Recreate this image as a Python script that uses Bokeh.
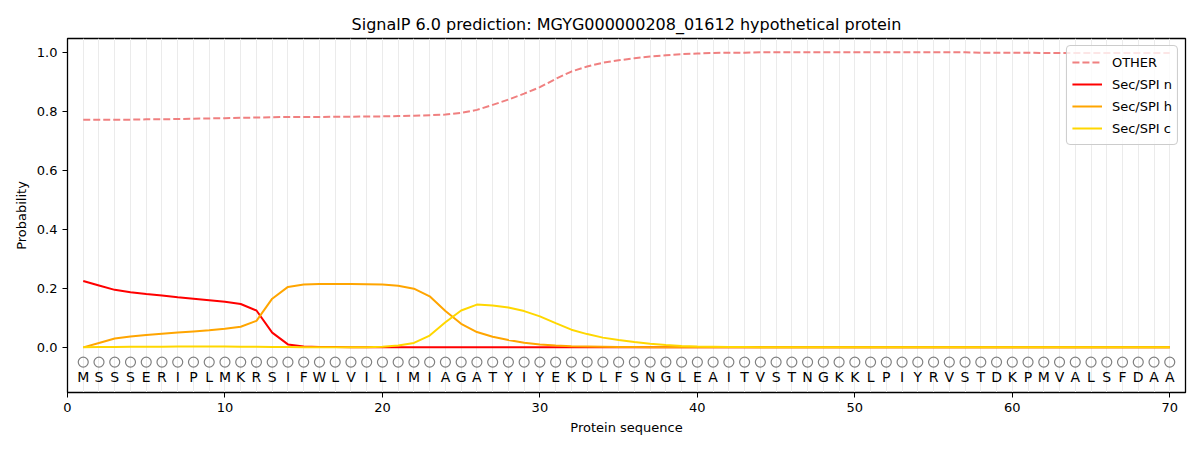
from bokeh.plotting import figure
from bokeh.models import Range1d, FixedTicker, Legend, LegendItem, ColumnDataSource, CustomJSTickFormatter
from bokeh.core.properties import value
from bokeh.embed import file_html
from bokeh.resources import INLINE

sequence = list("MSSSERIPLMKRSIFWLVILIMIAGATYIYEKDLFSNGLEAITVSTNGKKLPIYRVSTDKPMVALSFDAA")
positions = list(range(1, len(sequence) + 1))

other = [0.772, 0.772, 0.772, 0.772, 0.773, 0.773, 0.774, 0.775, 0.776, 0.777,
         0.778, 0.779, 0.780, 0.781, 0.781, 0.781, 0.782, 0.782, 0.783, 0.783,
         0.784, 0.785, 0.787, 0.789, 0.795, 0.805, 0.822, 0.840, 0.860, 0.882,
         0.910, 0.935, 0.952, 0.965, 0.973, 0.980, 0.986, 0.990, 0.994, 0.996,
         0.998, 0.999, 0.999, 1.000, 1.000, 1.000, 1.000, 1.000, 1.000, 1.000,
         1.000, 1.000, 1.000, 1.000, 1.000, 1.000, 1.000, 0.999, 0.999, 0.999,
         0.999, 0.998, 0.998, 0.998, 0.998, 0.998, 0.998, 0.998, 0.998, 0.998]

sec_n = [0.225, 0.210, 0.195, 0.187, 0.181, 0.176, 0.170, 0.165, 0.160, 0.155,
         0.147, 0.125, 0.050, 0.010, 0.003, 0.001, 0.001, 0.000, 0.000, 0.000,
         0.000, 0.000, 0.000, 0.000, 0.000, 0.000, 0.000, 0.000, 0.000, 0.000,
         0.000, 0.000, 0.000, 0.000, 0.000, 0.000, 0.000, 0.000, 0.000, 0.000,
         0.000, 0.000, 0.000, 0.000, 0.000, 0.000, 0.000, 0.000, 0.000, 0.000,
         0.000, 0.000, 0.000, 0.000, 0.000, 0.000, 0.000, 0.000, 0.000, 0.000,
         0.000, 0.000, 0.000, 0.000, 0.000, 0.000, 0.000, 0.000, 0.000, 0.000]

sec_h = [0.000, 0.015, 0.030, 0.037, 0.042, 0.046, 0.050, 0.054, 0.058, 0.063,
         0.070, 0.090, 0.165, 0.205, 0.213, 0.215, 0.215, 0.215, 0.214, 0.213,
         0.209, 0.199, 0.173, 0.123, 0.080, 0.052, 0.036, 0.025, 0.016, 0.010,
         0.006, 0.004, 0.003, 0.002, 0.001, 0.001, 0.000, 0.000, 0.000, 0.000,
         0.000, 0.000, 0.000, 0.000, 0.000, 0.000, 0.000, 0.000, 0.000, 0.000,
         0.000, 0.000, 0.000, 0.000, 0.000, 0.000, 0.000, 0.000, 0.000, 0.000,
         0.000, 0.000, 0.000, 0.000, 0.000, 0.000, 0.000, 0.000, 0.000, 0.000]

sec_c = [0.000, 0.001, 0.001, 0.002, 0.002, 0.002, 0.003, 0.003, 0.003, 0.003,
         0.002, 0.002, 0.001, 0.001, 0.000, 0.000, 0.000, 0.000, 0.000, 0.002,
         0.006, 0.015, 0.040, 0.085, 0.125, 0.145, 0.142, 0.135, 0.123, 0.105,
         0.082, 0.060, 0.045, 0.033, 0.025, 0.018, 0.012, 0.008, 0.005, 0.003,
         0.002, 0.001, 0.001, 0.000, 0.000, 0.000, 0.000, 0.000, 0.000, 0.000,
         0.000, 0.000, 0.000, 0.000, 0.000, 0.000, 0.000, 0.000, 0.000, 0.000,
         0.000, 0.000, 0.000, 0.000, 0.000, 0.000, 0.000, 0.000, 0.000, 0.000]

x_ticks = [0, 10, 20, 30, 40, 50, 60, 70]
y_ticks = [0.0, 0.2, 0.4, 0.6, 0.8, 1.0]

FONT = "DejaVu Sans"

p = figure(width=1200, height=450, output_backend="svg", toolbar_location=None,
           x_range=Range1d(0, 71), y_range=Range1d(-0.153, 1.047),
           title="SignalP 6.0 prediction: MGYG000000208_01612 hypothetical protein",
           min_border_left=67, min_border_right=15, min_border_top=38, min_border_bottom=58)

p.title.align = "center"
p.title.text_font = FONT
p.title.text_font_size = "16px"
p.title.text_font_style = "normal"
p.title.text_color = "black"
p.title.offset = 0

p.outline_line_color = "black"
p.outline_line_width = 1.3
p.background_fill_color = "white"

for ax in (p.xaxis[0], p.yaxis[0]):
    ax.major_label_text_font = FONT
    ax.major_label_text_font_size = "13px"
    ax.axis_label_text_font = FONT
    ax.axis_label_text_font_size = "13px"
    ax.axis_label_text_font_style = "normal"
    ax.axis_label_text_color = "black"
    ax.minor_tick_line_color = None
    ax.major_tick_out = 5
    ax.major_tick_in = 0
    ax.axis_line_color = "black"
    ax.major_label_text_color = "black"

p.xaxis.axis_label = "Protein sequence"
p.yaxis.axis_label = "Probability"
p.xaxis.ticker = FixedTicker(ticks=x_ticks)
p.yaxis.ticker = FixedTicker(ticks=y_ticks)
p.yaxis.formatter = CustomJSTickFormatter(code="return tick.toFixed(1);")

p.xgrid.ticker = FixedTicker(ticks=positions)
p.xgrid.grid_line_color = "#ebebeb"
p.xgrid.grid_line_width = 1
p.ygrid.grid_line_color = None

src = ColumnDataSource(dict(x=positions, other=other, n=sec_n, h=sec_h, c=sec_c,
                            aa=sequence,
                            cy=[-0.05] * len(positions),
                            ty=[-0.1] * len(positions)))

r_other = p.line("x", "other", source=src, line_color="#f08080", line_width=2, line_dash="7 3")
r_n = p.line("x", "n", source=src, line_color="#ff0000", line_width=2)
r_h = p.line("x", "h", source=src, line_color="#ffa500", line_width=2)
r_c = p.line("x", "c", source=src, line_color="#ffd700", line_width=2)

p.scatter("x", "cy", source=src, marker="circle", size=10, fill_color=None,
          line_color="#808080", line_width=1.2)
p.text("x", "ty", text="aa", source=src, text_align="center", text_baseline="middle",
       text_font=value(FONT), text_font_size="14px", text_color="black")

legend = Legend(items=[
    LegendItem(label="OTHER", renderers=[r_other]),
    LegendItem(label="Sec/SPI n", renderers=[r_n]),
    LegendItem(label="Sec/SPI h", renderers=[r_h]),
    LegendItem(label="Sec/SPI c", renderers=[r_c]),
], location="top_right")
legend.label_text_font = FONT
legend.label_text_font_size = "13px"
legend.label_text_color = "black"
legend.border_line_color = "#cccccc"
legend.border_line_alpha = 1
legend.border_radius = 4
legend.background_fill_alpha = 0.8
legend.margin = 7
legend.padding = 5
legend.spacing = 0
legend.glyph_width = 30
legend.glyph_height = 22
legend.label_height = 22
legend.label_standoff = 10
p.add_layout(legend)

open("out.html", "w").write(file_html(p, INLINE))
